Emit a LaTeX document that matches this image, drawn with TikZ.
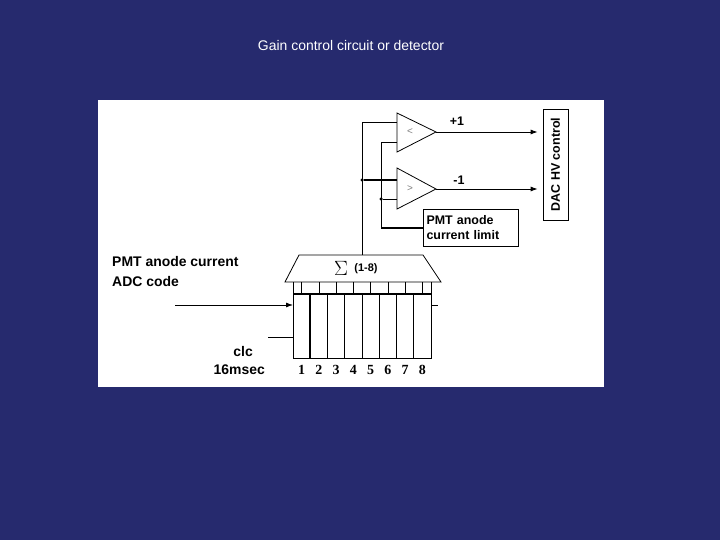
\documentclass[tikz,border=0pt]{standalone}
\usepackage{fontspec}
\setmainfont{Liberation Sans}
\newfontfamily\serifnum{Liberation Serif}
\usetikzlibrary{arrows.meta}
\definecolor{navy}{HTML}{262A6E}
\begin{document}
\begin{tikzpicture}[x=1bp,y=-1bp,
  wire/.style={draw=black,line width=0.8bp},
  thick wire/.style={draw=black,line width=1.6bp},
  arr/.style={-{Latex[length=7bp,width=5bp]}},
  lbl/.style={font=\bfseries\fontsize{12.5}{15}\selectfont,inner sep=0pt,align=left},
  big/.style={font=\bfseries\fontsize{14}{16}\selectfont,inner sep=0pt},
  dotc/.style={circle,fill=black,inner sep=0pt,minimum size=3.5bp}]
\useasboundingbox (0,0) rectangle (720,540);
\fill[navy] (0,0) rectangle (720,540);
\node[text=white,font=\fontsize{14}{16}\selectfont] (title) at (351,46) {Gain control circuit or detector};
\fill[white] (98,100) rectangle (604,387);
% amplifiers
\draw[wire] (397,113) -- (397,152) -- (436,132) -- cycle;
\draw[wire] (397,168) -- (397,209) -- (436,189) -- cycle;
\coordinate (a1) at (436,132);
\coordinate (a2) at (436,189);
\node[text=gray,font=\fontsize{10}{11}\selectfont] (lt) at (410,132) {<};
\node[text=gray,font=\fontsize{10}{11}\selectfont] (gt) at (410,189) {>};
\node[lbl] (p1) at (457,121) {+1};
\node[lbl] (m1) at (459,180) {-1};
% DAC box
\node[draw,line width=0.8bp,minimum width=25bp,minimum height=111bp,inner sep=0pt] (dac) at (555.5,164.5) {};
\node[lbl,rotate=90] (dact) at (dac.center) {DAC HV control};
\coordinate (d1) at (dac.west |- a1);
\coordinate (d2) at (dac.west |- a2);
\draw[wire,arr] (a1) -- ([xshift=-5bp]d1);
\draw[wire,arr] (a2) -- ([xshift=-5bp]d2);
% limit box
\node[draw,line width=0.8bp,minimum width=95bp,minimum height=37bp,inner sep=0pt,lbl,text width=88bp] (lim) at (470.5,227.5) {PMT anode\\current limit};
% sum
\draw[wire] (299,255) -- (423,255) -- (441,282) -- (285,282) -- cycle;
\node[font=\fontsize{20}{22}\selectfont] (sig) at (341,268) {$\Sigma$};
\node[lbl,font=\bfseries\fontsize{11}{13}\selectfont] (r18) at (366,269) {(1-8)};
% wires
\coordinate (s) at (362,255);
\coordinate (j1) at (362,122);
\node[dotc] (dot1) at (362,180) {};
\draw[wire] (s) -- (j1) -- (397,122);
\draw[thick wire] (dot1) -- (397,180);
\coordinate (j2) at (381,142);
\coordinate (j3) at (381,228);
\node[dotc] (dot2) at (381,199) {};
\draw[wire] (397,142) -- (j2) -- (j3);
\draw[wire] (dot2) -- (397,199);
\draw[thick wire] (j3) -- (lim.west |- j3);
% register
\draw[wire] (293,294) rectangle (431,358);
\draw[thick wire] (293,294) -- (431,294);
\foreach \i in {1,...,7} {\draw[line width={ifthenelse(\i<3,1.6,0.8)*1bp}] (293+\i*17.25,294) -- (293+\i*17.25,358);}
\draw[wire] (293,282) -- (293,294);
\draw[wire] (431,282) -- (431,294);
\foreach \i in {1,...,8} {
  \draw[wire] (293+\i*17.25-8.6,282) -- (293+\i*17.25-8.6,294);
  \node[font=\serifnum\bfseries\fontsize{14}{16}\selectfont] (n\i) at (293+\i*17.25-8.6,370) {\i};
}
\coordinate (in) at (175,305);
\coordinate (rin) at (293,305);
\draw[wire,arr] (in) -- (rin);
\draw[wire] (431,305) -- (438,305);
\coordinate (clk) at (268,337);
\draw[wire] (clk) -- (293,337);
\node[big,anchor=east] (clc) at (253,352) {clc};
\node[big,anchor=east] (ms) at (265,370) {16msec};
\node[big,anchor=west] (pmt) at (112,262) {PMT anode current};
\node[big,anchor=west] (adc) at (112,282) {ADC code};
\end{tikzpicture}
\end{document}
